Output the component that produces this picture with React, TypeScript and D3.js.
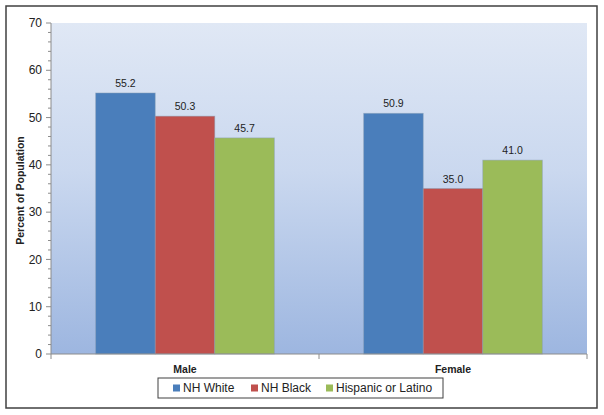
import React from 'react';
import * as d3 from 'd3';

const categories = ['Male', 'Female'];
const seriesNames = ['NH White', 'NH Black', 'Hispanic or Latino'];
const seriesColors = ['#4a7ebb', '#c0504d', '#9bbb59'];
const nhWhite = [55.2, 50.9];
const nhBlack = [50.3, 35.0];
const hispanic = [45.7, 41.0];
const yTicks = [0, 10, 20, 30, 40, 50, 60, 70];

const values = [nhWhite, nhBlack, hispanic];

export default function App() {
  const width = 604;
  const height = 415;
  const margin = { top: 23, right: 17, bottom: 61, left: 51 };
  const chartWidth = width - margin.left - margin.right;
  const chartHeight = height - margin.top - margin.bottom;

  const x0 = d3.scaleBand<string>().domain(categories).range([0, chartWidth]);
  const x1 = d3.scaleBand<string>()
    .domain(seriesNames)
    .range([0, x0.bandwidth()])
    .paddingOuter(0.75);
  const y = d3.scaleLinear().domain([0, 70]).range([chartHeight, 0]);
  const minorTicks = d3.range(0, 71, 2).filter((t) => t % 10 !== 0);

  const font = 'Arial, "Liberation Sans", sans-serif';

  // legend item positions
  const legendItems = [
    { name: seriesNames[0], x: 173 },
    { name: seriesNames[1], x: 251 },
    { name: seriesNames[2], x: 326 },
  ];

  return (
    <svg
      width={width}
      height={height}
      style={{ position: 'absolute', left: 0, top: 0, fontFamily: font }}
    >
      <defs>
        <linearGradient id="plotBg" x1="0" y1="0" x2="0" y2="1">
          <stop offset="0%" stopColor="#e0e8f5" />
          <stop offset="45%" stopColor="#cad8ef" />
          <stop offset="100%" stopColor="#9db6e0" />
        </linearGradient>
      </defs>
      <rect x={0} y={0} width={width} height={height} fill="#ffffff" />
      <rect x={6} y={6} width={591} height={402} fill="#ffffff" stroke="#404040" strokeWidth={1.5} />

      <g transform={`translate(${margin.left},${margin.top})`}>
        <rect x={0} y={0} width={chartWidth} height={chartHeight} fill="url(#plotBg)" />

        {values.map((series, si) =>
          series.map((v, ci) => (
            <rect
              key={`${si}-${ci}`}
              x={(x0(categories[ci]) ?? 0) + (x1(seriesNames[si]) ?? 0)}
              y={y(v)}
              width={x1.bandwidth()}
              height={chartHeight - y(v)}
              fill={seriesColors[si]}
              stroke="#8aa0b8"
              strokeOpacity={0.6}
              strokeWidth={0.8}
            />
          ))
        )}

        {values.map((series, si) =>
          series.map((v, ci) => (
            <text
              key={`l-${si}-${ci}`}
              x={(x0(categories[ci]) ?? 0) + (x1(seriesNames[si]) ?? 0) + x1.bandwidth() / 2}
              y={y(v) - 6}
              textAnchor="middle"
              fontSize={10.5}
              fill="#222"
            >
              {v.toFixed(1)}
            </text>
          ))
        )}

        {/* y axis */}
        <line x1={0} x2={0} y1={0} y2={chartHeight} stroke="#8c8c8c" strokeWidth={1} />
        {yTicks.map((t) => (
          <g key={t} transform={`translate(0,${y(t)})`}>
            <line x1={-5} x2={0} stroke="#8c8c8c" />
            <text x={-9} dy="0.35em" textAnchor="end" fontSize={12} fill="#222">
              {t}
            </text>
          </g>
        ))}
        {minorTicks.map((t) => (
          <line key={`m${t}`} x1={-3} x2={0} y1={y(t)} y2={y(t)} stroke="#8c8c8c" />
        ))}

        {/* x axis */}
        <line x1={0} x2={chartWidth} y1={chartHeight} y2={chartHeight} stroke="#8c8c8c" />
        {[0, ...categories.map((c) => (x0(c) ?? 0) + x0.bandwidth())].map((tx, i) => (
          <line key={`xt${i}`} x1={tx} x2={tx} y1={chartHeight} y2={chartHeight + 5} stroke="#8c8c8c" />
        ))}
        {categories.map((c) => (
          <text
            key={c}
            x={(x0(c) ?? 0) + x0.bandwidth() / 2}
            y={chartHeight + 19}
            textAnchor="middle"
            fontSize={10.5}
            fontWeight="bold"
            fill="#222"
          >
            {c}
          </text>
        ))}
      </g>

      <text
        transform={`translate(24,${margin.top + chartHeight / 2 + 2}) rotate(-90)`}
        textAnchor="middle"
        fontSize={10.5}
        fontWeight="bold"
        fill="#222"
      >
        Percent of Population
      </text>

      {/* legend */}
      <rect x={158} y={378} width={285} height={20} fill="#ffffff" stroke="#404040" strokeWidth={1} />
      {legendItems.map((item, i) => (
        <g key={item.name} transform={`translate(${item.x},388)`}>
          <rect x={0} y={-3.5} width={7} height={7} fill={seriesColors[i]} />
          <text x={10} dy="0.36em" fontSize={12} fill="#222">
            {item.name}
          </text>
        </g>
      ))}
    </svg>
  );
}
